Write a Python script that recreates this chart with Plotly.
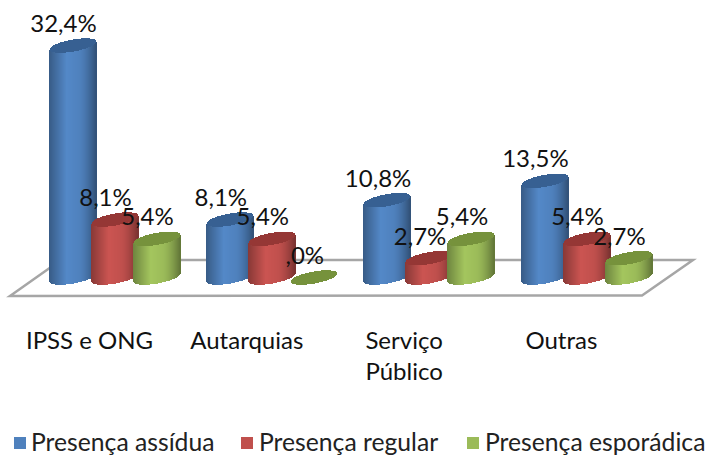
import math
import plotly.graph_objects as go

categories = ["IPSS e ONG", "Autarquias", "Serviço<br>Público", "Outras"]
series_names = ["Presença assídua", "Presença regular", "Presença esporádica"]
assidua = [32.4, 8.1, 10.8, 13.5]
regular = [8.1, 5.4, 2.7, 5.4]
esporadica = [5.4, 0.0, 5.4, 2.7]
assidua_labels = ["32,4%", "8,1%", "10,8%", "13,5%"]
regular_labels = ["8,1%", "5,4%", "2,7%", "5,4%"]
esporadica_labels = ["5,4%", ",0%", "5,4%", "2,7%"]

W, H = 706, 455
AXIS_Y_PX = 318
PX_PER_CAT = 157.3
PX_PER_PCT = 7.16
X0_PX = 115.0
Y0_PX = 277.5
HALF_W = 23.0
MINOR = 6.0
SHEAR = 4.0
STEP_PX = 1.0
LEGEND_SWATCH_PX = [20, 247, 473]
LEGEND_TEXT_PX = [31, 259, 485]
LEGEND_Y_PX = 443

series = [
    (assidua, assidua_labels, (79, 129, 189), (55, 96, 146), -42.0),
    (regular, regular_labels, (192, 80, 77), (149, 55, 53), 0.0),
    (esporadica, esporadica_labels, (155, 187, 89), (118, 146, 60), 42.0),
]


def shade(rgb, u):
    if u < -0.25:
        f = 0.72 + (u + 1) / 0.75 * 0.34
    elif u < 0.25:
        f = 1.06 - (u + 0.25) * 0.1
    else:
        f = 1.01 - ((u - 0.25) / 0.75) ** 1.5 * 0.36
    return "rgb(%d,%d,%d)" % tuple(min(255, int(c * f)) for c in rgb)


def to_xy(px, py):
    return (px - X0_PX) / PX_PER_CAT, (Y0_PX - py) / PX_PER_PCT


fig = go.Figure()

n = int(2 * HALF_W / STEP_PX) + 1
us = [-1 + 2 * k / (n - 1) for k in range(n)]
for i in range(len(categories)):
    for values, labels, col, cap_col, off_px in series:
        v = values[i]
        cx = i + off_px / PX_PER_CAT
        xs = [cx + u * HALF_W / PX_PER_CAT for u in us]
        arc = [MINOR * math.sqrt(max(0, 1 - u * u)) for u in us]
        tilt = [SHEAR * u for u in us]
        w = 1.5 / PX_PER_CAT
        fig.add_trace(go.Bar(
            x=xs, y=[v] * n,
            base=[(t - a) / PX_PER_PCT for t, a in zip(tilt, arc)],
            width=w,
            marker=dict(color=[shade(col, u) for u in us], line=dict(width=0)),
            showlegend=False, hoverinfo="skip",
        ))
        fig.add_trace(go.Bar(
            x=xs, y=[2 * a / PX_PER_PCT for a in arc],
            base=[v + (t - a) / PX_PER_PCT for t, a in zip(tilt, arc)],
            width=w,
            marker=dict(color="rgb(%d,%d,%d)" % cap_col, line=dict(width=0)),
            showlegend=False, hoverinfo="skip",
        ))

for values, labels, col, cap_col, off_px in series:
    fig.add_trace(go.Scatter(
        x=[i + (off_px - 9.5) / PX_PER_CAT for i in range(len(categories))],
        y=[v + 19.5 / PX_PER_PCT for v in values],
        mode="text", text=labels, textposition="middle center",
        textfont=dict(family="Lato", size=24, color="#111111"),
        showlegend=False, hoverinfo="skip", cliponaxis=False,
    ))

# Legend row: swatch and name for each series
for name, (values, labels, col, cap_col, off_px), sx, tx in zip(
        series_names, series, LEGEND_SWATCH_PX, LEGEND_TEXT_PX):
    lx, ly = to_xy(sx, LEGEND_Y_PX)
    fig.add_trace(go.Scatter(
        x=[lx], y=[ly], name=name, mode="markers",
        marker=dict(symbol="square", size=12, color="rgb(%d,%d,%d)" % col),
        showlegend=False, hoverinfo="skip", cliponaxis=False,
    ))
    ax, ay = to_xy(tx, LEGEND_Y_PX + 2)
    fig.add_trace(go.Scatter(
        x=[ax], y=[ay], mode="text", text=[name], textposition="middle right",
        textfont=dict(family="Lato", size=24.7, color="#222222"),
        showlegend=False, hoverinfo="skip", cliponaxis=False,
    ))

corners = [(10, 296), (61, 260), (693, 260), (642, 295.5)]
pts = [to_xy(*c) for c in corners]
path = "M " + " L ".join("%f,%f" % p for p in pts) + " Z"

fig.update_layout(
    width=W, height=H,
    autosize=False,
    showlegend=False,
    margin=dict(l=0, r=0, t=0, b=0, pad=0),
    paper_bgcolor="white", plot_bgcolor="white",
    barmode="overlay",
    bargap=0,
    shapes=[dict(type="path", path=path, xref="x", yref="y", layer="below",
                 fillcolor="white", line=dict(color="#a6a6a6", width=2.5))],
    xaxis=dict(
        range=[(0 - X0_PX) / PX_PER_CAT, (W - X0_PX) / PX_PER_CAT],
        anchor="free", position=(H - AXIS_Y_PX) / H,
        tickmode="array",
        tickvals=[i - 25.5 / PX_PER_CAT for i in range(len(categories))],
        ticktext=categories,
        tickfont=dict(family="Lato", size=24, color="#111111"),
        showgrid=False, zeroline=False, showline=False, ticks="",
        tickangle=0, ticklabelstandoff=6,
    ),
    yaxis=dict(
        range=[(Y0_PX - H) / PX_PER_PCT, Y0_PX / PX_PER_PCT],
        visible=False, showgrid=False, zeroline=False,
    ),
)

fig.write_html("out.html", config=dict(displayModeBar=False),
               post_script="document.body.style.margin='0';")
